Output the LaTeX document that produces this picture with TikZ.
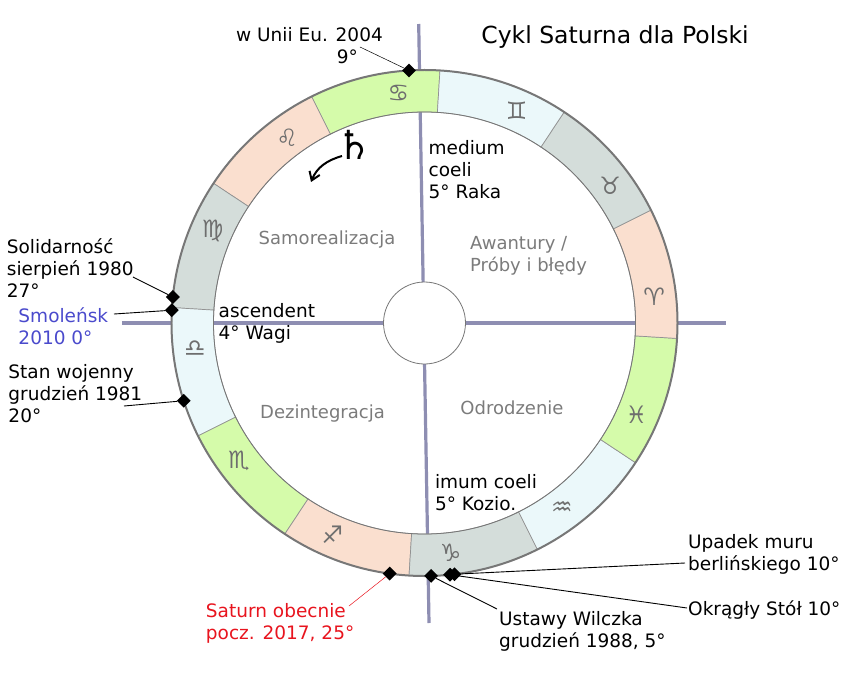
\documentclass[tikz,border=0pt]{standalone}
\usepackage{fontspec}
\setmainfont{DejaVu Sans}
\usetikzlibrary{positioning,shapes.geometric,arrows.meta}
\definecolor{signG}{HTML}{D5FBAA}
\definecolor{signC}{HTML}{EBF8FA}
\definecolor{signS}{HTML}{D4DDDA}
\definecolor{signP}{HTML}{FADFCF}
\definecolor{axisc}{HTML}{8E8EB2}
\definecolor{rimc}{HTML}{777777}
\definecolor{quadc}{HTML}{7B7B7B}
\definecolor{symc}{HTML}{6E6E6E}
\definecolor{smolc}{HTML}{4A4ACC}
\definecolor{satc}{HTML}{E8141E}
\tikzset{lbl/.style={align=left, inner sep=0pt, font=\fontsize{18.5}{22}\selectfont},
  quad/.style={lbl, text=quadc, font=\fontsize{18}{22}\selectfont},
  sign/.style={text=symc, inner sep=0pt, font=\bfseries\fontsize{24}{24}\selectfont},
  sector/.style={draw=rimc!80, line width=0.7pt},
  event/.style={diamond, fill=black, inner sep=0pt, minimum size=14pt},
  axisline/.style={draw=axisc, line width=3.2pt},
  lead/.style={draw=black, line width=0.9pt},
  thinlead/.style={line width=0.5pt}}

\begin{document}
\begin{tikzpicture}[x=1pt,y=1pt]
    \useasboundingbox (-424.5,-349) rectangle (431.5,323);

    \coordinate (mc)  at (-5.8,299);
    \coordinate (ic)  at (4.5,-300);
    \coordinate (asc) at (-302.5,0);
    \coordinate (dsc) at (301.2,0);
    \draw[axisline] (mc) -- (ic);
    \draw[axisline] (asc) -- (dsc);

    \foreach \s/\c [count=\i from 0] in {♋/signG,♌/signP,♍/signS,♎/signC,♏/signG,♐/signP,♑/signS,♒/signC,♓/signG,♈/signP,♉/signS,♊/signC} {
        \pgfmathsetmacro\a{86.5+30*\i}
        \draw[sector, fill=\c] (\a:211) arc[start angle=\a, delta angle=30, radius=211]
            -- (\a+30:253) arc[start angle=\a+30, delta angle=-30, radius=253] -- cycle;
        \node[sign] (s\i) at (\a+10:231) {\s};
    }
    \draw[rimc, line width=2pt]   (0,0) circle[radius=253];
    \draw[rimc, line width=0.8pt] (0,0) circle[radius=211];
    \node[circle, draw=rimc, fill=white, line width=0.8pt, minimum size=82pt] (hub) at (0,0) {};

    \node[lbl, font=\fontsize{23.5}{26}\selectfont] (title) at (190.5,286) {Cykl Saturna dla Polski};
    \node[lbl, anchor=west] (mcl)  at (4,153.5)     {medium\\coeli\\5° Raka};
    \node[lbl, anchor=west] (ascl) at (-206,-0.5)   {ascendent\\4° Wagi};
    \node[lbl, anchor=west] (icl)  at (10.3,-170)   {imum coeli\\5° Kozio.};

    \node[quad]             (q1) at (-97.5,83)  {Samorealizacja};
    \node[quad, anchor=west] (q2) at (45.5,67)   {Awantury /\\Próby i błędy};
    \node[quad]             (q3) at (-102,-91)  {Dezintegracja};
    \node[quad]             (q4) at (87.5,-85)  {Odrodzenie};

    \node[font=\bfseries\fontsize{40}{40}\selectfont, inner sep=0pt] (sat) at (-70.5,178) {♄};
    \coordinate (satend) at (-113.5,141);
    \draw[line width=2pt, -{Straight Barb[length=8pt,width=11pt]}] (-82.5,167) to[out=196,in=68] (satend);

    \node[event] (eu)  at (93.5:253)  {};
    \node[event] (sol) at (174.1:253) {};
    \node[event] (smo) at (177.1:253) {};
    \node[event] (sw)  at (197.9:253) {};
    \node[event] (now) at (262.1:253) {};
    \node[event] (wil) at (271.5:253) {};
    \node[event] (ok)  at (275.8:253) {};
    \node[event] (ber) at (276.8:253) {};

    \node[lbl, anchor=east, align=right] (eul) at (-41.5,277) {w Unii Eu. 2004\\9°\hspace*{25pt}};
    \node[lbl, anchor=west] (soll) at (-417.8,54.7)  {Solidarność\\sierpień 1980\\27°};
    \node[lbl, anchor=west, text=smolc] (smol) at (-406.2,-2.8) {Smoleńsk\\2010 0°};
    \node[lbl, anchor=west] (swl)  at (-416.2,-70.3) {Stan wojenny\\grudzień 1981\\20°};
    \node[lbl, anchor=west, text=satc] (nowl) at (-218.7,-300) {Saturn obecnie\\pocz. 2017, 25°};
    \node[lbl, anchor=west] (will) at (74.5,-308.5)  {Ustawy Wilczka\\grudzień 1988, 5°};
    \node[lbl, anchor=west] (berl) at (263.5,-231.7) {Upadek muru\\berlińskiego 10°};
    \node[lbl, anchor=west] (okl)  at (263.5,-287)   {Okrągły Stół 10°};

    \coordinate (eue)  at (-64.5,276);
    \coordinate (sole) at (-291.5,46);
    \coordinate (smoe) at (-310.5,9);
    \coordinate (swe)  at (-300.5,-83);
    \coordinate (nowe) at (-75.5,-283);
    \coordinate (wile) at (72.5,-286);
    \coordinate (bere) at (260.5,-240);
    \coordinate (oke)  at (262.5,-285);

    \draw[thinlead]          (eue)  -- (eu);
    \draw[lead]              (sole) -- (sol);
    \draw[lead]              (smoe) -- (smo);
    \draw[lead]              (swe)  -- (sw);
    \draw[thinlead, satc]    (nowe) -- (now);
    \draw[lead]              (wile) -- (wil);
    \draw[lead]              (bere) -- (ber);
    \draw[lead]              (oke)  -- (ok);
\end{tikzpicture}
\end{document}
